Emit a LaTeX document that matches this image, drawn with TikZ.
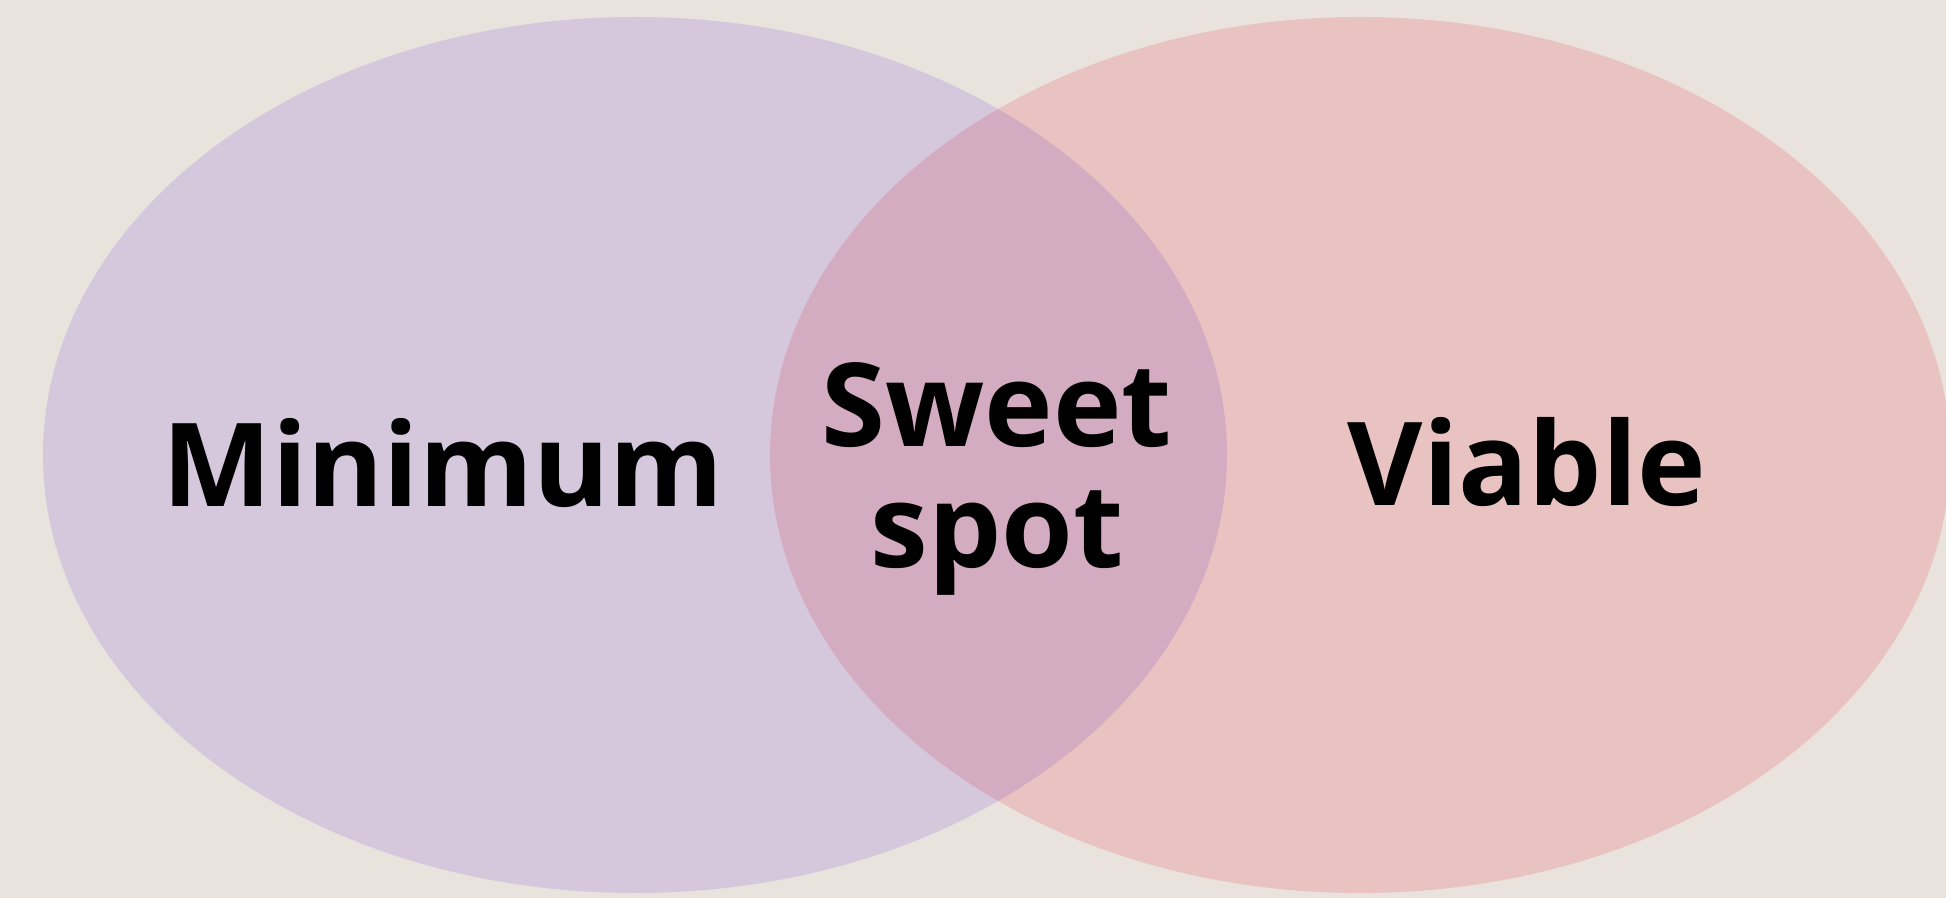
\documentclass[tikz,border=0pt]{standalone}
\usepackage{fontspec}
\setmainfont{Open Sans}
\usetikzlibrary{positioning}
\definecolor{bgcol}{RGB}{233,226,221}
\definecolor{leftcol}{RGB}{213,200,221}
\definecolor{rightcol}{RGB}{233,195,194}
\definecolor{bothcol}{RGB}{212,172,193}
\tikzstyle{word} = [inner sep=0pt, text=black, font=\fontsize{66pt}{69pt}\selectfont\bfseries, align=center]

\begin{document}
\begin{tikzpicture}[x=0.02cm, y=-0.02cm]

 \fill[bgcol] (0,0) rectangle (1946,898);
 \useasboundingbox (0,0) rectangle (1946,898);

 \coordinate (cmin) at (635,455);
 \coordinate (cvia) at (1360,455);

 \fill[leftcol] (cmin) ellipse [x radius=592, y radius=438];
 \fill[rightcol] (cvia) ellipse [x radius=590, y radius=438];
 \begin{scope}
  \clip (cmin) ellipse [x radius=592, y radius=438];
  \fill[bothcol] (cvia) ellipse [x radius=590, y radius=438];
 \end{scope}

 \node (min) [word, anchor=base] at (443,506) {Minimum};
 \node (via) [word, anchor=base] at (1527,505) {Viable};
 \node (sweet) [word] at (997,479) {Sweet\\spot};
\end{tikzpicture}
\end{document}
